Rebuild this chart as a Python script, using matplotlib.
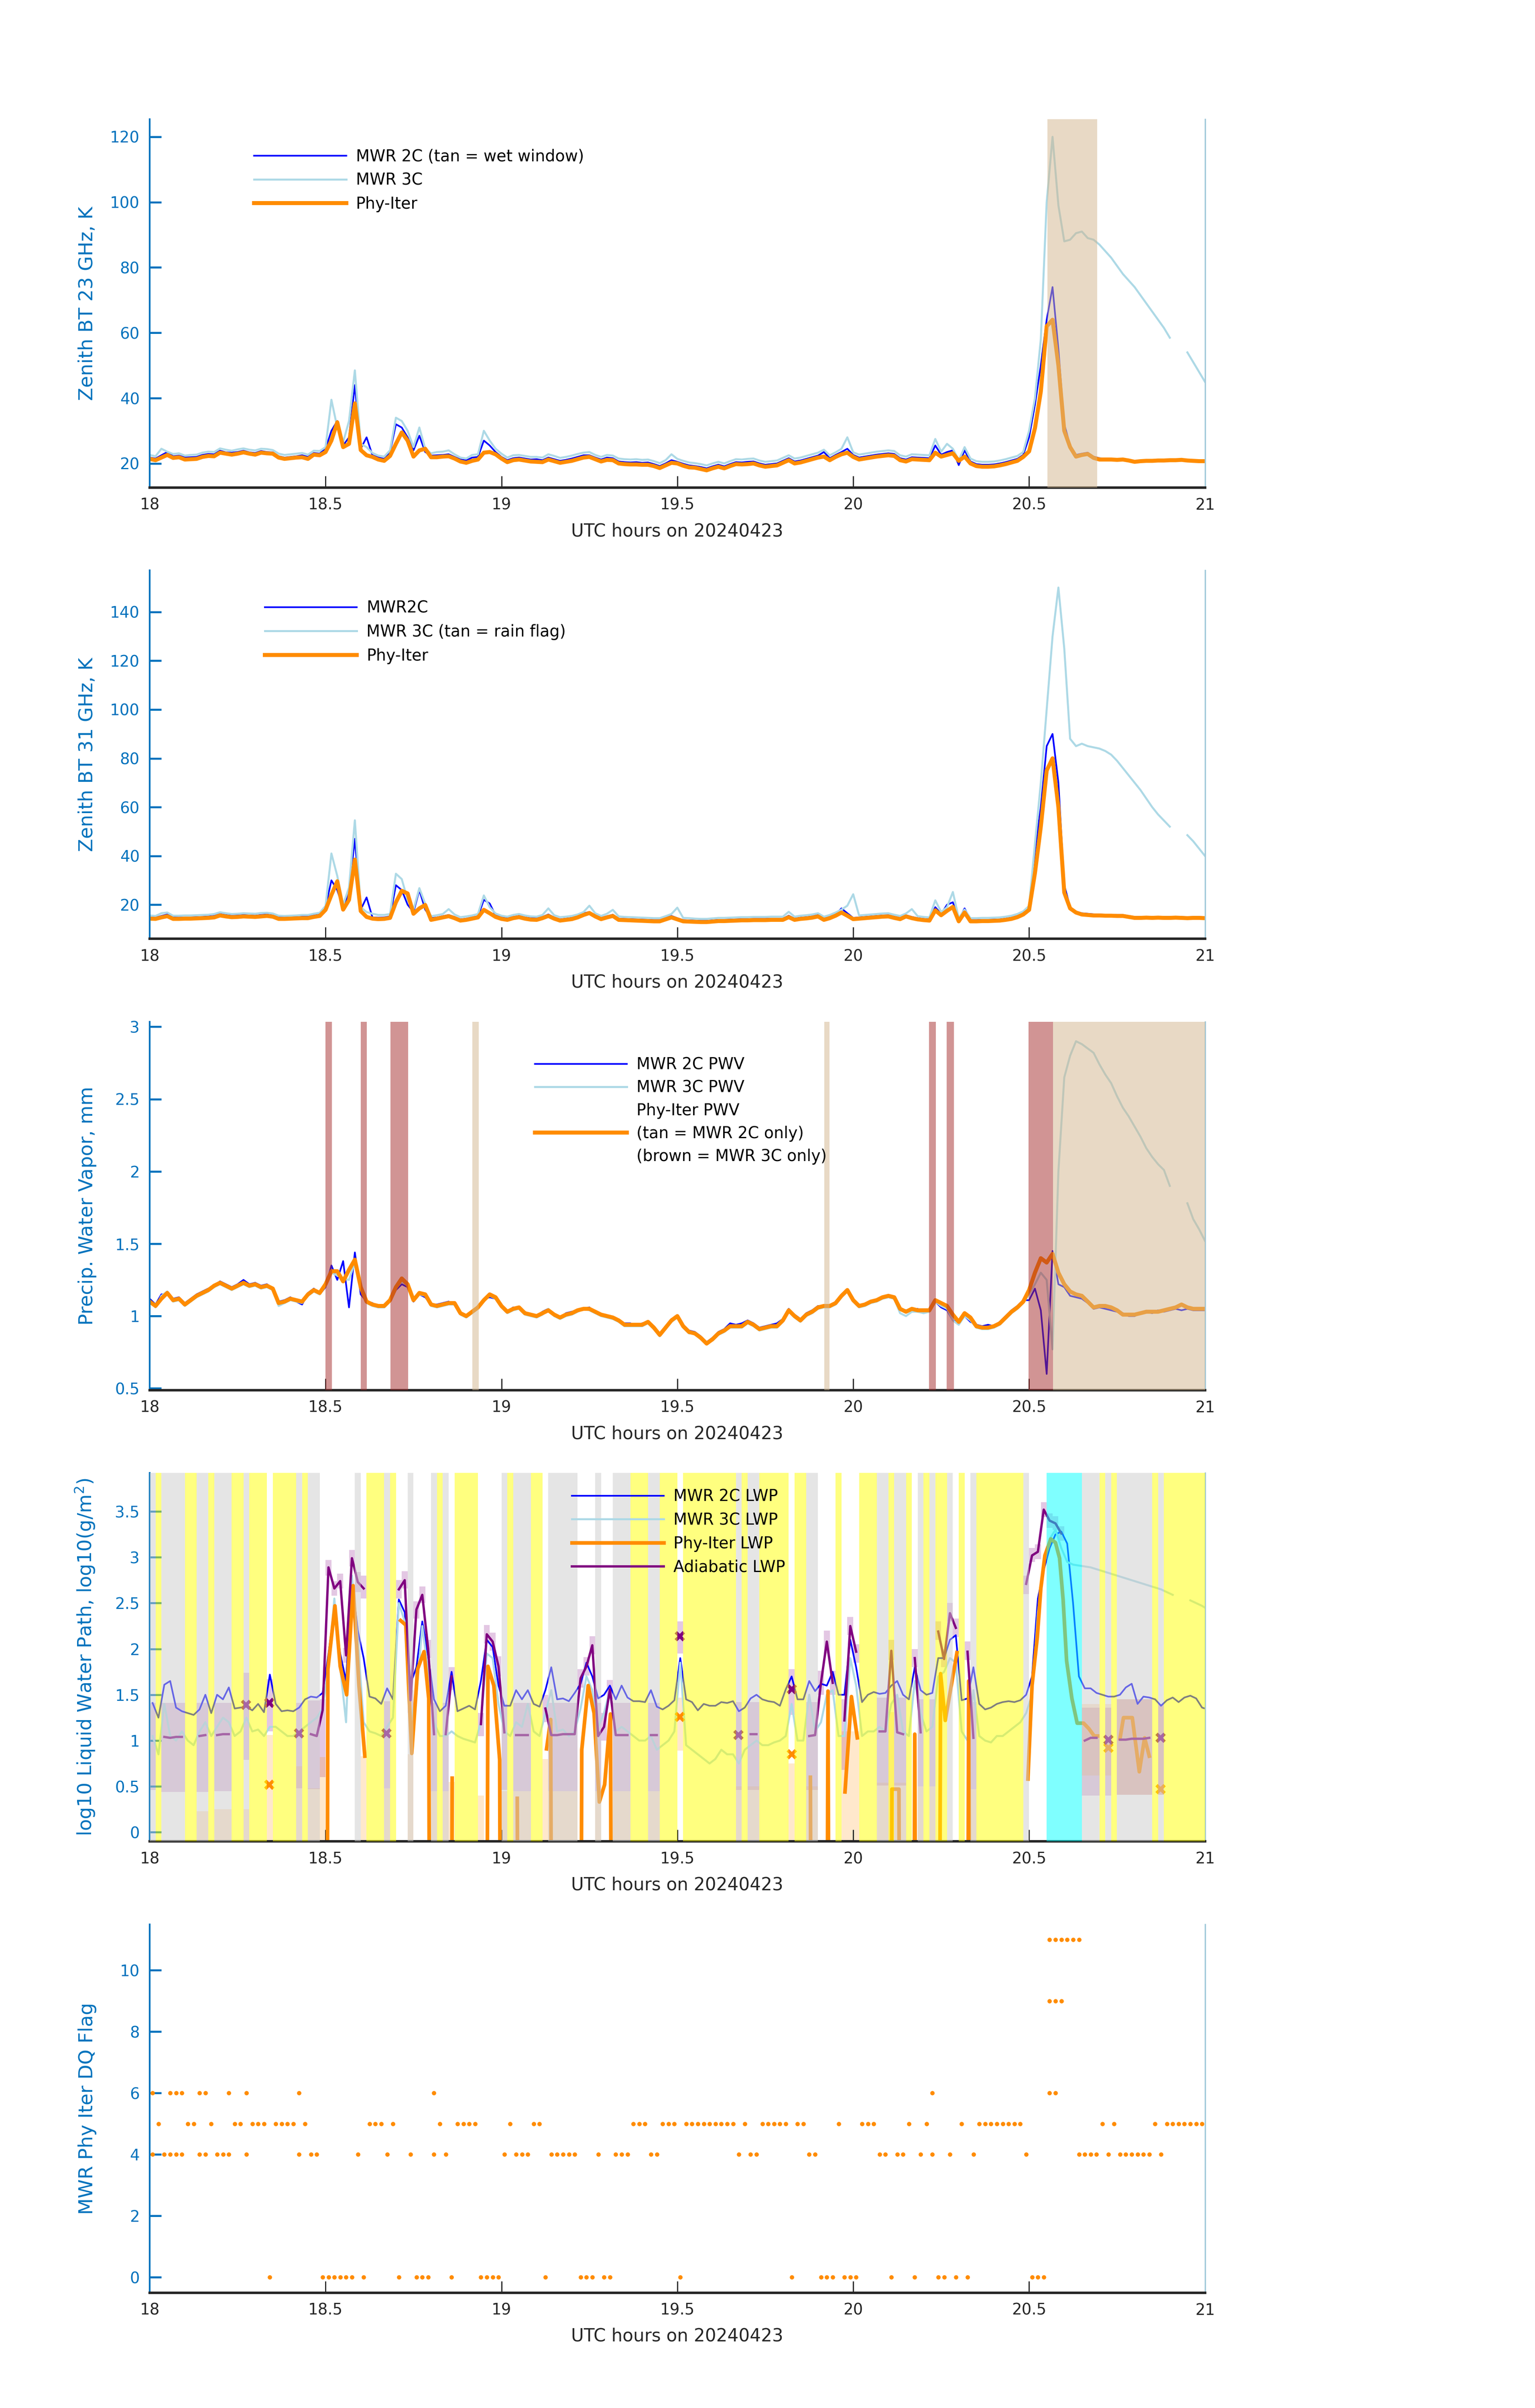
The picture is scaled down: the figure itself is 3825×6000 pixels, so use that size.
import numpy as np
import matplotlib
matplotlib.use('Agg')
import matplotlib.pyplot as plt
from matplotlib.lines import Line2D
from matplotlib.ticker import FormatStrFormatter

nan = np.nan

# minutes after 18 UTC, 0..180
minute = np.arange(181)
hours = 18 + minute / 60.0          # sample times of the BT / PWV series
hours_mid = 18 + (minute + 0.5) / 60.0   # per-minute retrieval times

# ---------------- Panel 1: 23 GHz brightness temperature (K) ----------------
bt23_phy = [21.4,21.0,21.8,22.6,21.7,21.9,21.2,21.3,21.4,22.0,
            22.3,22.2,23.3,23.0,22.7,23.0,23.4,23.0,22.7,23.3,
            23.1,23.0,21.8,21.4,21.6,21.8,21.9,21.4,22.7,22.5,
            23.5,27.0,32.6,25.0,26.0,38.4,24.1,22.5,22.0,21.2,
            20.8,22.3,26.0,29.5,27.0,22.1,24.0,24.5,21.9,21.9,
            22.1,22.2,21.5,20.6,20.2,20.8,21.2,23.3,23.5,22.8,
            21.5,20.4,21.0,21.2,20.9,20.6,20.5,20.4,21.2,20.7,
            20.2,20.5,20.8,21.3,21.8,22.0,21.3,20.6,21.1,21.0,
            20.0,19.8,19.7,19.7,19.6,19.6,19.2,18.6,19.4,20.2,
            20.0,19.3,18.8,18.7,18.3,17.9,18.5,19.0,18.5,19.2,
            19.8,19.7,19.8,20.0,19.4,19.0,19.2,19.4,20.2,21.0,
            20.0,20.3,20.8,21.3,21.8,22.1,21.0,22.0,22.8,23.3,
            22.0,21.2,21.5,21.8,22.1,22.3,22.5,22.3,21.0,20.6,
            21.3,21.2,21.1,21.0,23.3,22.1,22.6,23.1,20.8,22.1,
            20.0,19.2,19.0,19.0,19.1,19.4,19.8,20.3,20.8,22.0,
            23.7,30.8,42.0,62.0,64.0,50.0,30.0,25.0,22.1,22.6,
            22.9,21.7,21.2,21.2,21.2,21.1,21.2,20.9,20.5,20.7,
            20.8,20.8,20.9,20.9,21.0,21.0,21.1,20.9,20.8,20.7,
            20.7]
bt23_2c = [21.8,21.5,22.5,23.5,22.2,22.4,21.8,21.9,22.0,22.6,
           22.9,22.8,23.9,23.4,23.3,23.5,23.9,23.4,23.2,23.8,
           23.5,23.4,22.2,21.8,22.0,22.2,22.5,22.0,23.2,23.0,
           24.5,30.0,33.0,25.5,28.0,44.0,24.5,28.0,22.5,21.8,
           21.4,23.5,32.0,31.0,28.0,24.0,28.5,23.5,22.4,22.5,
           22.6,22.8,22.0,21.2,20.9,21.8,22.0,27.0,25.5,23.5,
           22.0,21.0,21.6,21.8,21.5,21.2,21.3,21.0,21.8,21.3,
           20.8,21.1,21.5,22.0,22.5,22.5,21.8,21.2,21.8,21.6,
           20.6,20.4,20.3,20.4,20.2,20.3,19.8,19.2,20.0,21.0,
           20.5,19.9,19.4,19.2,18.9,18.5,19.1,19.6,19.1,19.8,
           20.4,20.3,20.5,20.6,20.0,19.6,19.8,20.0,20.8,21.6,
           20.6,20.9,21.4,21.9,22.4,23.5,21.6,22.6,23.5,24.5,
           22.6,21.8,22.1,22.4,22.7,22.9,23.1,22.9,21.6,21.2,
           21.9,21.8,21.7,21.6,25.5,22.7,23.5,24.0,19.5,24.0,
           20.6,19.8,19.6,19.6,19.7,20.0,20.4,20.9,21.4,22.6,
           28.0,38.0,50.0,64.0,74.0,55.0,32.0,25.5,22.6,23.0,
           23.3,22.1,21.6,21.5,21.4,21.4,21.4,21.1,20.7,20.9,
           21.0,21.0,21.1,21.1,21.2,21.2,21.3,21.1,21.0,20.9,
           20.9]
bt23_3c = [22.6,22.2,24.5,23.6,22.9,23.1,22.4,22.6,22.7,23.3,
           23.6,23.5,24.6,24.2,23.9,24.3,24.6,24.2,24.0,24.5,
           24.4,24.1,23.0,22.6,22.8,23.0,23.2,22.7,23.9,23.8,
           25.0,39.5,31.0,26.5,33.0,48.5,26.0,25.0,23.2,22.4,
           22.1,24.0,34.0,33.0,30.0,25.0,31.0,24.5,23.1,23.5,
           23.6,24.0,22.8,21.8,21.5,22.6,22.8,30.0,27.0,24.5,
           23.0,21.8,22.5,22.6,22.3,22.0,22.0,21.8,22.8,22.3,
           21.7,22.0,22.4,22.9,23.3,23.5,22.6,22.0,22.6,22.4,
           21.5,21.3,21.2,21.3,21.1,21.2,20.7,20.1,21.0,22.8,
           21.4,20.8,20.3,20.1,19.8,19.4,20.0,20.5,20.0,20.7,
           21.3,21.2,21.4,21.5,20.9,20.5,20.7,20.9,21.7,22.5,
           21.5,21.8,22.3,22.8,23.3,24.2,22.5,23.4,24.5,28.0,
           23.4,22.7,23.0,23.3,23.6,23.8,24.0,23.8,22.5,22.1,
           22.8,22.7,22.6,22.5,27.5,23.6,26.0,24.5,21.0,25.0,
           21.5,20.7,20.5,20.5,20.6,20.9,21.3,21.8,22.3,23.5,
           30.0,40.0,58.0,100.0,120.0,99.0,88.0,88.5,90.5,91.0,
           89.0,88.5,87.0,85.0,83.0,80.5,78.0,76.0,74.0,71.5,
           69.0,66.5,64.0,61.5,58.5,nan,nan,54.0,51.0,48.0,
           45.0]
wet_window = [20.552, 20.694]

# ---------------- Panel 2: 31 GHz brightness temperature (K) ----------------
bt31_phy = [14.3,14.2,14.8,15.3,14.2,14.2,14.3,14.3,14.4,14.5,
            14.6,14.8,15.6,15.2,14.9,15.0,15.2,15.1,15.0,15.2,
            15.4,15.1,14.2,14.2,14.3,14.4,14.5,14.5,15.0,15.4,
            17.9,24.0,29.6,18.0,22.0,38.5,17.4,15.0,14.3,14.1,
            14.2,14.6,21.0,25.7,24.6,16.3,18.5,19.9,13.8,14.3,
            14.8,15.3,14.5,13.5,13.8,14.3,14.8,17.9,16.5,15.0,
            14.2,13.8,14.5,14.9,14.3,13.9,13.8,14.5,15.4,14.3,
            13.5,13.8,14.1,14.8,15.8,16.6,15.2,14.1,14.8,15.4,
            13.8,13.7,13.6,13.5,13.4,13.3,13.2,13.2,14.0,14.8,
            14.0,13.2,13.1,13.0,12.9,12.9,13.1,13.3,13.3,13.4,
            13.5,13.6,13.6,13.7,13.7,13.7,13.8,13.8,13.8,14.9,
            13.8,14.2,14.4,14.7,15.2,13.8,14.5,15.5,16.8,15.5,
            14.1,14.3,14.5,14.7,14.9,15.1,15.2,14.6,14.1,15.2,
            14.5,14.0,13.7,13.5,17.7,15.7,17.5,19.1,13.2,16.8,
            13.2,13.2,13.3,13.3,13.4,13.5,13.8,14.2,14.9,16.0,
            17.9,33.0,52.0,75.0,80.0,60.0,25.0,18.5,16.8,16.0,
            15.8,15.6,15.6,15.5,15.5,15.4,15.4,15.0,14.6,14.6,
            14.7,14.6,14.7,14.6,14.6,14.7,14.6,14.5,14.6,14.6,
            14.5]
bt31_2c = [14.8,14.7,15.4,16.0,14.8,14.7,14.8,14.8,14.9,15.0,
           15.2,15.4,16.2,15.8,15.5,15.6,15.8,15.6,15.5,15.8,
           16.0,15.6,14.8,14.8,14.9,15.0,15.1,15.1,15.6,16.0,
           19.0,30.0,26.0,18.5,25.0,47.0,18.0,23.0,14.8,14.7,
           14.8,15.2,28.0,26.0,20.0,17.0,26.0,18.0,14.5,14.8,
           15.3,15.8,15.0,14.0,14.3,14.8,15.3,22.0,20.5,15.6,
           14.8,14.4,15.0,15.4,14.8,14.5,14.4,15.0,16.0,14.8,
           14.0,14.3,14.6,15.3,16.5,17.0,15.7,14.6,15.3,15.9,
           14.3,14.2,14.1,14.0,13.9,13.8,13.7,13.7,14.5,15.4,
           14.5,13.7,13.6,13.5,13.4,13.4,13.6,13.8,13.8,13.9,
           14.0,14.1,14.1,14.2,14.2,14.2,14.3,14.3,14.3,15.5,
           14.3,14.7,14.9,15.2,15.8,14.3,15.0,16.0,18.5,16.5,
           14.6,14.8,15.0,15.2,15.4,15.6,15.7,15.1,14.6,15.7,
           15.0,14.5,14.2,14.0,19.0,16.2,20.0,21.0,13.7,18.5,
           13.7,13.7,13.8,13.8,13.9,14.0,14.3,14.7,15.4,16.5,
           18.5,42.0,60.0,85.0,90.0,70.0,28.0,19.0,17.2,16.5,
           16.3,16.1,16.0,15.9,15.9,15.8,15.8,15.4,15.0,15.0,
           15.1,15.0,15.1,15.0,15.0,15.1,15.0,14.9,15.0,15.0,
           14.9]
bt31_3c = [15.6,15.4,16.5,16.8,15.5,15.5,15.6,15.6,15.7,15.8,
           15.9,16.2,16.9,16.5,16.2,16.3,16.5,16.4,16.3,16.6,
           16.7,16.4,15.5,15.4,15.5,15.6,15.8,15.8,16.3,16.7,
           19.5,41.0,31.8,20.0,27.0,54.6,19.0,17.0,16.3,15.8,
           15.8,16.2,32.7,30.5,22.0,18.0,26.8,20.4,15.3,15.7,
           16.2,18.2,16.0,14.9,15.2,15.6,16.2,23.8,19.0,16.4,
           15.5,15.1,15.8,16.2,15.6,15.2,15.1,15.8,18.5,15.7,
           14.9,15.1,15.4,16.0,17.0,19.6,16.5,15.4,16.3,17.9,
           15.2,15.0,14.9,14.8,14.7,14.6,14.5,14.5,15.3,16.2,
           18.8,14.6,14.5,14.3,14.2,14.2,14.4,14.6,14.6,14.7,
           14.8,14.9,14.9,15.0,15.0,15.0,15.1,15.1,15.1,17.1,
           15.1,15.5,15.7,16.0,16.5,15.1,15.8,16.8,18.0,19.6,
           24.3,15.6,15.8,16.0,16.2,16.4,16.5,15.9,15.4,16.4,
           18.2,15.3,15.0,14.8,21.8,17.0,19.0,25.2,14.5,18.0,
           14.5,14.5,14.6,14.6,14.7,14.8,15.1,15.5,16.2,17.3,
           19.5,45.0,70.0,100.0,130.0,150.0,125.0,88.0,85.0,86.0,
           85.0,84.5,84.0,83.0,81.5,79.0,76.0,73.0,70.0,67.0,
           63.5,60.0,57.0,54.5,52.0,nan,nan,48.5,46.0,43.0,
           40.0]

# ---------------- Panel 3: precipitable water vapour (mm) ----------------
pwv_phy = [1.10,1.07,1.12,1.16,1.11,1.12,1.08,1.11,1.14,1.16,
           1.18,1.21,1.23,1.21,1.19,1.21,1.23,1.21,1.22,1.20,
           1.21,1.19,1.09,1.10,1.12,1.11,1.10,1.15,1.18,1.16,
           1.22,1.31,1.31,1.24,1.32,1.39,1.20,1.10,1.08,1.07,
           1.07,1.11,1.20,1.26,1.22,1.11,1.16,1.15,1.08,1.07,
           1.08,1.09,1.09,1.02,1.00,1.03,1.06,1.11,1.15,1.13,
           1.07,1.03,1.05,1.06,1.02,1.01,1.00,1.02,1.04,1.01,
           0.99,1.01,1.02,1.04,1.05,1.05,1.03,1.01,1.00,0.99,
           0.97,0.94,0.94,0.94,0.94,0.96,0.92,0.87,0.92,0.97,
           1.00,0.93,0.89,0.88,0.85,0.81,0.84,0.88,0.90,0.93,
           0.93,0.93,0.96,0.94,0.91,0.92,0.93,0.93,0.97,1.04,
           1.00,0.97,1.01,1.03,1.06,1.07,1.07,1.09,1.14,1.18,
           1.11,1.07,1.08,1.10,1.11,1.13,1.14,1.13,1.05,1.03,
           1.05,1.04,1.04,1.04,1.11,1.09,1.07,1.01,0.96,1.02,
           0.99,0.93,0.92,0.92,0.93,0.95,0.99,1.03,1.06,1.10,
           1.18,1.30,1.40,1.37,1.43,1.30,1.22,1.17,1.15,1.14,
           1.10,1.06,1.07,1.07,1.06,1.04,1.01,1.01,1.01,1.02,
           1.03,1.03,1.03,1.04,1.05,1.06,1.08,1.06,1.05,1.05,
           1.05]
pwv_2c = [1.12,1.08,1.15,1.15,1.12,1.13,1.09,1.12,1.15,1.17,
          1.19,1.21,1.24,1.22,1.20,1.22,1.25,1.22,1.23,1.21,
          1.22,1.19,1.10,1.11,1.13,1.10,1.08,1.16,1.19,1.15,
          1.20,1.35,1.25,1.38,1.06,1.44,1.15,1.10,1.09,1.06,
          1.06,1.10,1.18,1.22,1.20,1.10,1.15,1.13,1.08,1.08,
          1.09,1.10,1.08,1.02,1.00,1.03,1.07,1.12,1.13,1.12,
          1.06,1.03,1.06,1.05,1.03,1.00,1.00,1.03,1.05,1.00,
          0.99,1.02,1.03,1.04,1.05,1.06,1.02,1.01,1.00,0.98,
          0.97,0.95,0.95,0.93,0.95,0.96,0.93,0.88,0.93,0.98,
          0.99,0.94,0.90,0.89,0.86,0.82,0.85,0.89,0.91,0.95,
          0.94,0.95,0.97,0.95,0.92,0.93,0.94,0.95,0.98,1.05,
          1.01,0.98,1.02,1.04,1.07,1.06,1.06,1.09,1.13,1.17,
          1.10,1.07,1.08,1.09,1.11,1.12,1.13,1.12,1.05,1.04,
          1.04,1.05,1.03,1.04,1.10,1.06,1.04,0.97,0.96,1.00,
          0.96,0.94,0.93,0.94,0.93,0.96,1.00,1.04,1.07,1.11,
          1.11,1.19,1.04,0.60,1.45,1.22,1.20,1.14,1.13,1.12,
          1.09,1.05,1.06,1.05,1.04,1.03,1.02,1.00,1.00,1.02,
          1.03,1.02,1.04,1.03,1.04,1.05,1.04,1.05,1.04,1.04,
          1.04]
pwv_3c = [1.11,1.06,1.14,1.17,1.10,1.11,1.07,1.10,1.13,1.15,
          1.17,1.20,1.22,1.20,1.18,1.20,1.22,1.20,1.21,1.19,
          1.20,1.18,1.07,1.09,1.11,1.10,1.09,1.14,1.17,1.15,
          1.21,1.30,1.28,1.26,1.25,1.37,1.18,1.09,1.07,1.06,
          1.06,1.10,1.19,1.24,1.21,1.13,1.15,1.14,1.07,1.06,
          1.07,1.08,1.08,1.01,0.99,1.02,1.05,1.12,1.14,1.12,
          1.06,1.02,1.04,1.05,1.01,1.00,0.99,1.01,1.05,1.00,
          0.98,1.00,1.01,1.03,1.05,1.04,1.02,1.00,0.99,0.98,
          0.96,0.93,0.93,0.93,0.93,0.95,0.91,0.86,0.91,0.96,
          0.99,0.92,0.88,0.88,0.84,0.82,0.83,0.87,0.89,0.92,
          0.92,0.92,0.95,0.93,0.90,0.91,0.92,0.92,0.96,1.03,
          0.99,0.96,1.00,1.02,1.05,1.06,1.06,1.08,1.13,1.17,
          1.10,1.06,1.07,1.09,1.10,1.12,1.13,1.12,1.02,1.00,
          1.03,1.03,1.02,1.03,1.10,1.07,1.05,0.97,0.94,1.00,
          0.97,0.92,0.91,0.91,0.92,0.94,0.98,1.02,1.05,1.09,
          1.15,1.22,1.30,1.25,0.77,2.00,2.65,2.80,2.90,2.88,
          2.85,2.82,2.74,2.67,2.61,2.52,2.44,2.38,2.31,2.24,
          2.16,2.10,2.05,2.01,1.90,nan,nan,1.78,1.67,1.60,
          1.52]
brown_start = [18.500, 18.600, 18.685, 20.216, 20.266, 20.499]
brown_end = [18.518, 18.617, 18.735, 20.235, 20.286, 20.568]
tan_start = [18.917, 19.918, 20.568]
tan_end = [18.935, 19.933, 21.0]

# ---------------- Panel 4: log10 liquid water path ----------------
lwp_2c = [1.41,1.25,1.61,1.65,1.36,1.32,1.30,1.28,1.34,1.50,
          1.30,1.50,1.45,1.58,1.35,1.36,1.37,1.33,1.40,1.31,
          1.72,1.40,1.32,1.33,1.32,1.36,1.45,1.48,1.47,1.52,
          1.95,2.45,1.95,1.65,2.75,2.20,1.90,1.48,1.46,1.40,
          1.57,1.45,2.54,2.40,1.62,1.80,2.30,1.92,1.45,1.32,
          1.38,1.75,1.32,1.35,1.38,1.34,1.65,2.10,2.02,1.60,
          1.38,1.38,1.55,1.45,1.55,1.40,1.37,1.55,1.80,1.45,
          1.46,1.43,1.52,1.62,1.85,1.70,1.46,1.50,1.60,1.45,
          1.60,1.47,1.43,1.43,1.42,1.55,1.37,1.34,1.38,1.44,
          1.90,1.45,1.42,1.33,1.40,1.38,1.38,1.42,1.41,1.43,
          1.32,1.36,1.46,1.50,1.45,1.43,1.42,1.38,1.56,1.70,
          1.45,1.45,1.65,1.54,1.62,1.60,1.75,1.50,1.50,2.10,
          1.80,1.42,1.50,1.53,1.51,1.52,1.60,1.65,1.50,1.45,
          1.80,1.55,1.50,1.52,1.90,1.90,2.10,2.15,1.44,1.46,
          1.80,1.40,1.34,1.36,1.40,1.42,1.43,1.42,1.44,1.50,
          1.70,2.55,2.86,3.10,3.25,3.28,3.15,2.50,1.70,1.57,
          1.57,1.52,1.50,1.48,1.48,1.50,1.58,1.62,1.40,1.48,
          1.47,1.45,1.38,1.44,1.47,1.42,1.47,1.49,1.46,1.36,
          1.34]
lwp_3c = [1.05,0.85,1.40,1.05,1.00,1.10,1.00,0.95,1.10,1.20,
          1.05,1.15,1.25,1.20,1.05,1.10,1.25,1.10,1.12,1.05,
          1.15,1.15,1.10,1.05,1.05,1.10,1.15,1.20,1.25,1.35,
          1.80,2.55,1.80,1.20,2.80,2.10,1.20,1.10,1.08,1.05,
          1.15,1.25,2.50,2.30,1.20,1.50,2.25,1.75,1.20,1.05,
          1.05,1.10,1.05,1.02,1.00,0.98,1.20,1.95,1.90,1.40,
          1.10,1.05,1.20,1.15,1.40,1.10,1.05,1.30,1.55,1.10,
          1.12,1.05,1.10,1.35,1.70,1.55,1.15,1.30,1.55,1.10,
          1.15,1.10,1.05,1.00,1.00,1.05,0.90,0.95,1.00,1.10,
          1.85,0.95,0.90,0.85,0.80,0.75,0.80,0.90,0.85,0.85,
          0.75,0.90,0.95,1.00,0.95,0.95,0.98,1.00,1.05,1.40,
          1.00,1.00,1.50,1.10,1.20,1.50,1.55,1.05,1.05,1.90,
          1.60,1.05,1.10,1.10,1.15,1.10,1.40,1.50,1.10,1.05,
          1.65,1.30,1.10,1.15,1.70,1.75,1.90,1.85,1.10,1.00,
          1.55,1.05,1.00,0.98,1.05,1.05,1.10,1.15,1.20,1.30,
          1.50,2.40,2.90,3.20,3.30,3.10,2.95,2.92,2.91,2.90,
          2.89,2.87,2.85,2.83,2.81,2.79,2.77,2.75,2.73,2.71,
          2.69,2.67,2.65,2.62,2.59,nan,nan,2.53,2.50,2.47,
          2.43]
lwp_ad = [1.06,nan,1.04,1.03,1.04,1.04,nan,nan,1.05,1.06,
          nan,1.06,1.07,1.07,nan,nan,nan,nan,nan,nan,
          nan,nan,nan,nan,nan,nan,nan,1.07,1.05,1.33,
          2.89,2.66,2.74,1.93,2.99,2.73,2.66,nan,nan,nan,
          nan,nan,2.65,2.75,1.44,2.43,2.59,2.00,1.07,nan,
          1.07,1.70,nan,nan,nan,nan,1.18,2.16,2.08,1.81,
          1.09,nan,1.06,1.06,1.06,nan,nan,1.35,1.06,1.06,
          1.07,1.07,1.07,1.68,1.81,2.04,1.05,1.15,1.56,1.06,
          1.06,1.06,nan,nan,nan,1.06,1.06,nan,nan,nan,
          nan,nan,nan,nan,nan,nan,nan,nan,nan,nan,
          nan,nan,1.07,1.07,nan,nan,nan,nan,nan,nan,
          nan,nan,1.05,1.06,1.63,2.08,1.63,nan,1.22,2.25,
          1.97,nan,nan,nan,1.10,1.10,1.98,1.09,1.07,nan,
          1.90,1.09,nan,nan,2.19,1.89,2.39,2.23,nan,1.97,
          1.03,nan,nan,nan,nan,nan,nan,nan,nan,2.71,
          3.02,3.06,3.52,3.40,3.37,3.26,nan,nan,nan,1.00,
          1.03,1.03,nan,nan,nan,1.01,1.01,1.02,1.02,1.02,
          1.03,nan,nan,nan,nan,nan,nan,nan,nan,nan,
          nan]
ad_lo = [0.46,nan,0.44,0.44,0.44,0.44,nan,nan,0.44,0.44,
         nan,0.45,0.45,0.45,nan,nan,0.79,nan,nan,nan,
         1.10,nan,nan,nan,nan,0.48,nan,0.47,0.47,0.60,
         2.80,2.58,2.66,1.85,2.90,2.62,2.55,nan,nan,nan,
         0.48,nan,2.55,2.66,1.30,2.33,2.50,1.90,0.45,nan,
         0.45,1.55,nan,nan,nan,nan,1.05,2.06,1.98,1.70,
         0.46,nan,0.45,0.45,0.45,nan,nan,1.20,0.45,0.45,
         0.45,0.45,0.45,1.58,1.71,1.94,0.45,1.00,1.45,0.45,
         0.45,0.45,nan,nan,nan,0.45,0.45,nan,nan,nan,
         1.95,nan,nan,nan,nan,nan,nan,nan,nan,nan,
         0.46,nan,0.46,0.46,nan,nan,nan,nan,nan,1.28,
         nan,nan,0.46,0.46,1.50,1.95,1.50,nan,0.68,2.15,
         1.85,nan,nan,nan,0.51,0.51,1.88,0.51,0.51,nan,
         1.80,0.50,nan,0.50,2.10,1.80,2.30,2.13,nan,1.88,
         0.47,nan,nan,nan,nan,nan,nan,nan,nan,2.60,
         2.95,2.98,3.44,3.32,3.30,3.18,nan,nan,nan,0.40,
         0.40,0.40,nan,0.40,nan,0.41,0.41,0.41,0.41,0.41,
         0.41,nan,0.41,nan,nan,nan,nan,nan,nan,nan,
         nan]
ad_hi = [1.41,nan,1.41,1.41,1.41,1.41,nan,nan,1.41,1.41,
         nan,1.41,1.41,1.41,nan,nan,1.74,nan,nan,nan,
         1.67,nan,nan,nan,nan,1.41,nan,1.44,1.44,1.45,
         2.97,2.74,2.82,2.01,3.08,2.84,2.80,nan,nan,nan,
         1.43,nan,2.75,2.85,1.55,2.52,2.68,2.10,1.41,nan,
         1.41,1.80,nan,nan,nan,nan,1.30,2.26,2.18,1.92,
         1.40,nan,1.41,1.41,1.41,nan,nan,1.50,1.41,1.41,
         1.41,1.41,1.41,1.78,1.91,2.14,1.41,1.30,1.66,1.41,
         1.41,1.41,nan,nan,nan,1.41,1.41,nan,nan,nan,
         2.30,nan,nan,nan,nan,nan,nan,nan,nan,nan,
         1.42,nan,1.42,1.42,nan,nan,nan,nan,nan,1.78,
         nan,nan,1.42,1.42,1.76,2.20,1.76,nan,1.45,2.35,
         2.05,nan,nan,nan,1.47,1.47,2.10,1.47,1.47,nan,
         2.00,1.45,nan,1.45,2.30,2.00,2.50,2.33,nan,2.08,
         1.42,nan,nan,nan,nan,nan,nan,nan,nan,2.80,
         3.10,3.14,3.60,3.48,3.45,3.34,nan,nan,nan,1.36,
         1.36,1.36,nan,1.36,nan,1.45,1.45,1.45,1.45,1.45,
         1.45,nan,1.40,nan,nan,nan,nan,nan,nan,nan,
         nan]
ph_lo = [nan,nan,nan,nan,nan,nan,nan,nan,-0.3,-0.3,
         nan,-0.3,-0.3,-0.3,nan,nan,-0.3,nan,nan,nan,
         -0.3,nan,nan,nan,nan,-0.3,nan,-0.3,-0.3,-0.3,
         nan,nan,nan,nan,nan,nan,-0.3,nan,nan,nan,
         -0.3,nan,nan,nan,-0.3,nan,nan,nan,-0.3,nan,
         -0.3,-0.3,nan,nan,nan,nan,-0.3,nan,nan,nan,
         -0.3,nan,-0.3,-0.3,-0.3,nan,nan,-0.3,-0.3,-0.3,
         -0.3,-0.3,-0.3,nan,nan,nan,-0.3,nan,nan,-0.3,
         -0.3,-0.3,nan,nan,nan,-0.3,-0.3,nan,nan,nan,
         0.89,nan,nan,nan,nan,nan,nan,nan,nan,nan,
         -0.3,nan,-0.3,-0.3,nan,nan,nan,nan,nan,-0.3,
         nan,nan,-0.3,-0.3,nan,nan,nan,nan,-0.3,-0.3,
         -0.3,nan,nan,nan,-0.3,-0.3,-0.3,-0.3,-0.3,nan,
         nan,-0.3,nan,-0.3,nan,nan,nan,nan,nan,nan,
         -0.3,nan,nan,nan,nan,nan,nan,nan,nan,nan,
         nan,nan,nan,nan,nan,nan,nan,nan,nan,0.62,
         0.62,0.62,nan,0.62,nan,0.41,0.41,0.41,0.41,0.41,
         0.41,nan,0.41,nan,nan,nan,nan,nan,nan,nan,
         nan]
ph_hi = [nan,nan,nan,nan,nan,nan,nan,nan,0.23,0.23,
         nan,0.25,0.25,0.25,nan,nan,0.25,nan,nan,nan,
         1.06,nan,nan,nan,nan,0.72,nan,0.48,0.48,0.82,
         nan,nan,nan,nan,nan,nan,0.83,nan,nan,nan,
         0.48,nan,nan,nan,0.85,nan,nan,nan,0.45,nan,
         0.45,0.55,nan,nan,nan,nan,0.40,nan,nan,nan,
         0.45,nan,0.45,0.45,0.45,nan,nan,0.80,0.45,0.45,
         0.45,0.45,0.45,nan,nan,nan,0.45,nan,nan,0.45,
         0.45,0.45,nan,nan,nan,0.45,0.45,nan,nan,nan,
         1.47,nan,nan,nan,nan,nan,nan,nan,nan,nan,
         0.50,nan,0.50,0.50,nan,nan,nan,nan,nan,0.75,
         nan,nan,0.50,0.50,nan,nan,nan,nan,1.10,1.10,
         1.10,nan,nan,nan,0.54,0.54,1.31,0.54,0.54,nan,
         nan,0.50,nan,0.50,nan,nan,nan,nan,nan,nan,
         0.47,nan,nan,nan,nan,nan,nan,nan,nan,nan,
         nan,nan,nan,nan,nan,nan,nan,nan,nan,1.40,
         1.40,1.40,nan,1.40,nan,1.45,1.45,1.45,1.45,1.45,
         1.45,nan,1.40,nan,nan,nan,nan,nan,nan,nan,
         nan]

# Phy-Iter LWP: (minute, value); -20 marks a zero retrieval (log10 -> off axis)
phy_lwp_min = [29.4,30.2,31.4,32.3,33.4,34.5,35.5,36.5,nan,
               42.6,43.5,44.5,45.5,46.6,47.4,48.4,nan,
               50.4,51.4,nan,
               56.4,57.5,58.5,59.5,60.5,nan,
               62.5,63.5,nan,
               67.5,68.2,69.2,nan,
               72.5,73.5,74.6,75.6,76.5,77.4,78.4,79.4,nan,
               112.5,113.5,nan,
               114.5,115.5,116.5,nan,
               118.4,119.5,120.5,nan,
               125.4,126.4,127.6,128.6,nan,
               129.3,130.3,131.3,nan,
               133.7,134.7,135.5,137.5,nan,
               138.5,139.5,140.5,nan,
               149.6,150.3,151.2,151.8,152.5,153.5,154.3,155.0,155.6,156.2,
               157.1,158.0,159.1,160.0,160.9,161.5,nan,
               165.3,165.9,167.4,168.6,169.5,170.3]
phy_lwp_val = [-20,1.78,2.47,1.81,1.50,2.69,1.60,0.83,nan,
               2.31,2.26,0.86,1.78,1.97,1.46,-20,nan,
               -20,0.59,nan,
               -20,1.81,1.60,0.79,-20,nan,
               0.37,-20,nan,
               0.91,1.23,-20,nan,
               -20,0.90,1.60,1.30,0.33,0.52,1.29,-20,nan,
               0.60,-20,nan,
               -20,1.54,-20,nan,
               0.44,1.48,1.03,nan,
               -20,0.47,0.47,-20,nan,
               -20,1.07,-20,nan,
               -20,1.73,1.22,1.96,nan,
               -20,1.65,-20,nan,
               0.58,1.60,2.13,2.66,3.02,3.20,3.16,2.99,2.54,1.87,
               1.46,1.19,1.19,1.13,1.05,1.05,nan,
               1.02,1.25,1.25,0.66,1.03,0.83]
phy_x_min = [20.4, 90.4, 109.5, 163.5, 172.4]
phy_x_val = [0.52, 1.26, 0.85, 0.92, 0.47]
ad_x_min = [16.4, 20.4, 25.5, 40.4, 90.4, 100.4, 109.5, 163.5, 172.4]
ad_x_val = [1.39, 1.41, 1.08, 1.08, 2.14, 1.06, 1.56, 1.01, 1.03]

# sky class per minute run: Y clear, G cloudy, W none, C rain
band_code = ['G','Y','G','Y','G','Y','G','Y','G','Y','W','Y','G','Y','G','W','G','W',
             'Y','G','Y','W','G','W','G','Y','G','W','Y','W','G','Y','G','Y','W','G',
             'W','G','W','G','Y','G','Y','W','Y','G','Y','G','Y','W','Y','G','W','Y',
             'W','Y','G','Y','G','Y','W','G','Y','G','Y','G','W','Y','W','G','Y','G',
             'W','C','G','Y','G','Y','G','Y','G','Y']
band_len = [1,1,4,2,2,1,3,2,1,3,1,4,1,1,2,6,1,1,
            3,1,1,2,1,3,1,1,1,1,4,4,1,1,3,2,1,5,
            3,1,2,3,3,2,3,1,9,1,1,2,5,1,2,2,3,1,
            3,3,2,1,2,1,1,1,1,1,2,1,1,1,1,1,8,1,
            3,6,3,1,1,1,6,1,1,7]

# ---------------- Panel 5: Phy-Iter DQ flag ----------------
flag0_min = [20,29,30,31,32,33,34,36,42,45,46,47,51,56,57,58,59,67,73,74,75,77,78,
             90,109,114,115,116,118,119,120,126,130,134,135,137,139,150,151,152]
flag4_min = [0,2,3,4,5,8,9,11,12,13,16,25,27,28,35,40,44,48,50,60,62,63,64,68,69,70,
             71,72,76,79,80,81,85,86,100,102,103,112,113,124,125,127,128,131,133,136,
             140,149,158,159,160,161,163,165,166,167,168,169,170,172]
flag5_min = [1,6,7,10,14,15,17,18,19,21,22,23,24,26,37,38,39,41,49,52,53,54,55,61,65,
             66,82,83,84,87,88,89,91,92,93,94,95,96,97,98,99,101,104,105,106,107,108,
             110,111,117,121,122,123,129,132,138,141,142,143,144,145,146,147,148,162,
             164,171,173,174,175,176,177,178,179]
flag6_min = [0,3,4,5,8,9,13,16,25,48,133,153,154]
flag9_min = [153,154,155]
flag11_min = [153,154,155,156,157,158]

# ---------------- styling ----------------
plt.rcParams['font.family'] = ['DejaVu Sans']
c_2c = (0, 0, 1)
c_3c = (0.68, 0.85, 0.9)
c_phy = (1, 0.55, 0)
c_ad = (0.5, 0, 0.5)
c_tan = (0.824, 0.706, 0.549)
c_brown = (0.647, 0.165, 0.165)
ax_blue = (0, 0.447, 0.741)
dark = (0.15, 0.15, 0.15)


def style_axes(ax, ylim, yticks, ylabel):
    ax.set_xlim(18, 21)
    ax.set_ylim(*ylim)
    ax.set_xticks([18, 18.5, 19, 19.5, 20, 20.5, 21])
    ax.set_yticks(yticks)
    ax.xaxis.set_major_formatter(FormatStrFormatter('%g'))
    ax.yaxis.set_major_formatter(FormatStrFormatter('%g'))
    ax.tick_params(axis='x', direction='in', length=7, width=0.7, color=dark,
                   labelcolor=dark, pad=6, labelsize=9.3)
    ax.tick_params(axis='y', direction='in', length=7, width=1.2, color=ax_blue,
                   labelcolor=ax_blue, pad=6, labelsize=9.3)
    ax.spines['top'].set_visible(False)
    ax.spines['left'].set_color(ax_blue)
    ax.spines['left'].set_linewidth(1.0)
    ax.spines['bottom'].set_color(dark)
    ax.spines['bottom'].set_linewidth(1.5)
    ax.spines['right'].set_color((0.62, 0.78, 0.85))
    ax.spines['right'].set_linewidth(0.8)
    ax.set_xlabel('UTC hours on 20240423', fontsize=10.5, color=dark)
    ax.xaxis.set_label_coords(0.5, -0.095)
    ax.set_ylabel(ylabel, fontsize=11.5, color=ax_blue)
    ax.yaxis.set_label_coords(-0.05, 0.5)


def add_legend(ax, handles, labels, x, y, spacing):
    leg = ax.legend(handles, labels, loc='upper left', bbox_to_anchor=(x, y),
                    frameon=False, fontsize=9.5, handlelength=5.8, handletextpad=0.6,
                    labelspacing=spacing, borderpad=0, borderaxespad=0)
    leg.set_zorder(10)


fig = plt.figure(figsize=(12.75, 20), dpi=300)
left, width, height = 0.0975, 0.6875, 0.153
bottoms = [0.7975, 0.6101, 0.4227, 0.2353, 0.0479]
axs = [fig.add_axes([left, b, width, height]) for b in bottoms]

# Panel 1
ax = axs[0]
l1, = ax.plot(hours, bt23_2c, color=c_2c, lw=1.0, zorder=2)
l2, = ax.plot(hours, bt23_3c, color=c_3c, lw=1.2, zorder=2)
l3, = ax.plot(hours, bt23_phy, color=c_phy, lw=2.4, zorder=2)
ax.axvspan(wet_window[0], wet_window[1], color=c_tan, alpha=0.5, lw=0, zorder=3)
style_axes(ax, (12.6, 125.4), [20, 40, 60, 80, 100, 120], 'Zenith BT 23 GHz, K')
add_legend(ax, [l1, l2, l3], ['MWR 2C (tan = wet window)', 'MWR 3C', 'Phy-Iter'],
           0.099, 0.920, 0.49)

# Panel 2
ax = axs[1]
l1, = ax.plot(hours, bt31_2c, color=c_2c, lw=1.0, zorder=2)
l2, = ax.plot(hours, bt31_3c, color=c_3c, lw=1.2, zorder=2)
l3, = ax.plot(hours, bt31_phy, color=c_phy, lw=2.4, zorder=2)
style_axes(ax, (6.0, 157.0), [20, 40, 60, 80, 100, 120, 140], 'Zenith BT 31 GHz, K')
add_legend(ax, [l1, l2, l3], ['MWR2C', 'MWR 3C (tan = rain flag)', 'Phy-Iter'],
           0.109, 0.919, 0.49)

# Panel 3
ax = axs[2]
l1, = ax.plot(hours, pwv_2c, color=c_2c, lw=1.0, zorder=2)
l2, = ax.plot(hours, pwv_3c, color=c_3c, lw=1.2, zorder=2)
l3, = ax.plot(hours, pwv_phy, color=c_phy, lw=2.4, zorder=2)
for s, e in zip(brown_start, brown_end):
    ax.axvspan(s, e, color=c_brown, alpha=0.5, lw=0, zorder=3)
for s, e in zip(tan_start, tan_end):
    ax.axvspan(s, e, color=c_tan, alpha=0.5, lw=0, zorder=3)
style_axes(ax, (0.488, 3.035), [0.5, 1, 1.5, 2, 2.5, 3], 'Precip. Water Vapor, mm')
blank = Line2D([], [], color='none')
add_legend(ax, [l1, l2, blank, l3, blank],
           ['MWR 2C PWV', 'MWR 3C PWV', 'Phy-Iter PWV', '(tan = MWR 2C only)',
            '(brown = MWR 3C only)'], 0.365, 0.904, 0.43)

# Panel 4
ax = axs[3]
m_start = 18 + minute / 60.0
ad_lo_a, ad_hi_a = np.array(ad_lo), np.array(ad_hi)
ok = ~np.isnan(ad_lo_a)
ax.bar(m_start[ok], ad_hi_a[ok] - ad_lo_a[ok], bottom=ad_lo_a[ok], width=1 / 60.0,
       align='edge', color=c_ad, alpha=0.22, lw=0, zorder=1)
ph_lo_a, ph_hi_a = np.array(ph_lo), np.array(ph_hi)
ok = ~np.isnan(ph_lo_a)
ax.bar(m_start[ok], ph_hi_a[ok] - ph_lo_a[ok], bottom=ph_lo_a[ok], width=1 / 60.0,
       align='edge', color=c_phy, alpha=0.2, lw=0, zorder=1)
l1, = ax.plot(hours_mid, lwp_2c, color=c_2c, lw=1.0, zorder=2)
l2, = ax.plot(hours_mid, lwp_3c, color=c_3c, lw=1.2, zorder=2)
l3, = ax.plot(18 + (np.array(phy_lwp_min) + 0.2) / 60.0, phy_lwp_val, color=c_phy,
              lw=2.2, zorder=2)
l4, = ax.plot(hours_mid, lwp_ad, color=c_ad, lw=1.4, zorder=2)
ax.plot(18 + np.array(phy_x_min) / 60.0, phy_x_val, 'x', color=c_phy, ms=5, mew=2.0, zorder=2)
ax.plot(18 + np.array(ad_x_min) / 60.0, ad_x_val, 'x', color=c_ad, ms=5, mew=2.0, zorder=2)
band_rgb = {'Y': (1, 1, 0), 'G': (0.8, 0.8, 0.8), 'C': (0, 1, 1)}
pos = 0
for code, n in zip(band_code, band_len):
    if code in band_rgb:
        ax.axvspan(18 + pos / 60.0, 18 + (pos + n) / 60.0, color=band_rgb[code],
                   alpha=0.5, lw=0, zorder=3)
    pos += n
style_axes(ax, (-0.1, 3.92), [0, 0.5, 1, 1.5, 2, 2.5, 3, 3.5],
           'log10 Liquid Water Path, log10(g/m$^2$)')
add_legend(ax, [l1, l2, l3, l4], ['MWR 2C LWP', 'MWR 3C LWP', 'Phy-Iter LWP', 'Adiabatic LWP'],
           0.40, 0.957, 0.47)

# Panel 5
ax = axs[4]
for mins, val in [(flag0_min, 0), (flag4_min, 4), (flag5_min, 5), (flag6_min, 6),
                  (flag9_min, 9), (flag11_min, 11)]:
    t = 18 + (np.array(mins) + 0.5) / 60.0
    ax.plot(t, np.full(len(t), val), 'o', color=c_phy, ms=2.6, mew=0, zorder=2)
style_axes(ax, (-0.5, 11.5), [0, 2, 4, 6, 8, 10], 'MWR Phy Iter DQ Flag')

fig.savefig('out.png', dpi=300)
